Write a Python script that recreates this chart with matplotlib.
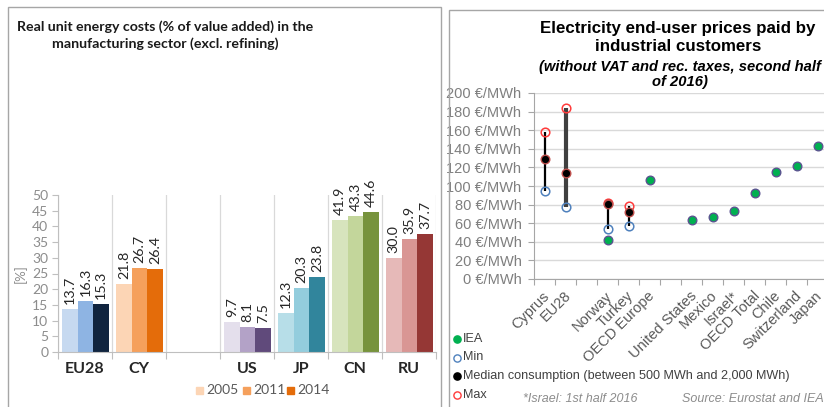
import numpy as np
import matplotlib
matplotlib.use("Agg")
import matplotlib.pyplot as plt
from matplotlib.lines import Line2D
from matplotlib.patches import Rectangle

# ---------------- data: left chart ----------------
regions = ["EU28", "CY", "", "US", "JP", "CN", "RU"]
years = ["2005", "2011", "2014"]
v2005 = [13.7, 21.8, np.nan, 9.7, 12.3, 41.9, 30.0]
v2011 = [16.3, 26.7, np.nan, 8.1, 20.3, 43.3, 35.9]
v2014 = [15.3, 26.4, np.nan, 7.5, 23.8, 44.6, 37.7]
region_colors = [
    ["#c6d9f0", "#8eb4e3", "#10243f"],
    ["#fcd5b5", "#f5a05c", "#e46c0a"],
    ["#ffffff", "#ffffff", "#ffffff"],
    ["#e4dfec", "#b3a2c7", "#604a7b"],
    ["#b7dee8", "#93cddd", "#31859c"],
    ["#d7e4bd", "#c3d69b", "#77933c"],
    ["#e6b9b8", "#d99694", "#953735"],
]
left_yticks = [0, 5, 10, 15, 20, 25, 30, 35, 40, 45, 50]

# ---------------- data: right chart ----------------
countries = ["Cyprus", "EU28", "", "Norway", "Turkey", "OECD Europe", "",
             "United States", "Mexico", "Israel*", "OECD Total", "Chile",
             "Switzerland", "Japan"]
iea = [np.nan, np.nan, np.nan, 42, np.nan, 106, np.nan, 63, 67, 73, 93, 115, 121, 143]
pmin = [95, 77, np.nan, 54, 57, np.nan, np.nan, np.nan, np.nan, np.nan, np.nan, np.nan, np.nan, np.nan]
pmed = [129, 114, np.nan, 81, 72, np.nan, np.nan, np.nan, np.nan, np.nan, np.nan, np.nan, np.nan, np.nan]
pmax = [158, 184, np.nan, 82, 79, np.nan, np.nan, np.nan, np.nan, np.nan, np.nan, np.nan, np.nan, np.nan]
right_yticks = [0, 20, 40, 60, 80, 100, 120, 140, 160, 180, 200]
legend_labels = ["IEA", "Min", "Median consumption (between 500 MWh and 2,000 MWh)", "Max"]

W, H = 824, 407
fig = plt.figure(figsize=(W / 100, H / 100), dpi=100)

def fx(px):
    return px / W

def fy(py):
    return 1 - py / H

# panel frames
fig.add_artist(Rectangle((fx(8), fy(420)), fx(441) - fx(8), fy(7) - fy(420),
                         transform=fig.transFigure, fill=False, ec="#a6a6a6", lw=1))
fig.add_artist(Rectangle((fx(449), fy(420)), fx(830) - fx(449), fy(10) - fy(420),
                         transform=fig.transFigure, fill=False, ec="#a6a6a6", lw=1))

# ================= left chart =================
LF = "Lato"
axl = fig.add_axes([fx(58), fy(352), fx(436) - fx(58), fy(195) - fy(352)])
x = np.arange(len(regions))
bw = 0.29
series = [v2005, v2011, v2014]
for j, vals in enumerate(series):
    for i, v in enumerate(vals):
        if np.isnan(v):
            continue
        xi = x[i] + (j - 1) * bw + 0.01
        axl.bar(xi, v, width=bw, color=region_colors[i][j], edgecolor="none", zorder=2)
        axl.text(xi, v + 1.6, f"{v:.1f}", rotation=90, ha="center", va="bottom",
                 fontsize=10.3, color="#262626", family=LF, clip_on=False)
axl.set_xlim(-0.5, len(regions) - 0.5)
axl.set_ylim(0, 50)
axl.set_yticks(left_yticks)
axl.set_yticklabels([str(t) for t in left_yticks], fontsize=10, color="#8c8c8c", family=LF)
axl.set_xticks(np.arange(len(regions) + 1) - 0.5, minor=False)
axl.set_xticklabels([])
axl.tick_params(axis="x", length=5, color="#bfbfbf")
axl.tick_params(axis="y", length=4, color="#bfbfbf", pad=3)
for b in np.arange(len(regions) + 1) - 0.5:
    axl.axvline(b, color="#d9d9d9", lw=0.9, zorder=0)
for s in ["top", "right"]:
    axl.spines[s].set_visible(False)
axl.spines["left"].set_color("#bfbfbf")
axl.spines["bottom"].set_color("#bfbfbf")
for i, r in enumerate(regions):
    axl.text(x[i], -5.5, r, ha="center", va="center", fontsize=11.5, fontweight="bold",
             color="#262626", family=LF)
axl.set_ylabel("[%]", fontsize=9.5, color="#8c8c8c", family=LF, labelpad=4)
fig.text(fx(165), fy(35), "Real unit energy costs (% of value added) in the\nmanufacturing sector (excl. refining)",
         ha="center", va="center", fontsize=10.2, fontweight="bold", family=LF,
         color="#1a1a1a", linespacing=1.4)
# legend (left)
lx = [196, 243, 287]
for j, y in enumerate(years):
    fig.add_artist(Rectangle((fx(lx[j]), fy(394)), fx(7), 7 / H, transform=fig.transFigure,
                             color=region_colors[1][j]))
    fig.text(fx(lx[j] + 10), fy(390), y, ha="left", va="center", fontsize=10,
             color="#595959", family=LF)

# ================= right chart =================
RF = "Liberation Sans"
axr = fig.add_axes([fx(534), fy(279), fx(828) - fx(534), fy(93) - fy(279)])
xr = np.arange(len(countries))
for i in range(len(countries)):
    if not np.isnan(pmin[i]):
        thick = countries[i] == "EU28"
        axr.plot([xr[i], xr[i]], [pmin[i], pmax[i]], color="#404040" if thick else "black",
                 lw=3 if thick else 1.6, zorder=2, solid_capstyle="butt")
ms = 6.2
axr.plot(xr, iea, "o", ls="none", ms=ms, mfc="#00b050", mec="#5b5490", mew=1.0, zorder=3)
axr.plot(xr, pmin, "o", ls="none", ms=ms, mfc="none", mec="#4f81bd", mew=1.1, zorder=3)
axr.plot(xr, pmax, "o", ls="none", ms=ms, mfc="none", mec="#ff3b3b", mew=1.1, zorder=3)
axr.plot(xr, pmed, "o", ls="none", ms=ms, mfc="black", mec="#c0504d", mew=1.0, zorder=4)
axr.set_xlim(-0.5, len(countries) - 0.5)
axr.set_ylim(0, 200)
axr.set_yticks(right_yticks)
axr.set_yticklabels([f"{t} €/MWh" for t in right_yticks], fontsize=10.5, color="#7f7f7f", family=RF)
axr.set_xticks(np.arange(len(countries) + 1) - 0.5)
axr.set_xticklabels([])
axr.tick_params(axis="x", length=4, color="#a6a6a6")
axr.tick_params(axis="y", length=4, color="#a6a6a6", pad=5)
axr.grid(axis="y", color="#d9d9d9", lw=1)
axr.set_axisbelow(True)
for s in ["top", "right"]:
    axr.spines[s].set_visible(False)
axr.spines["left"].set_color("#a6a6a6")
axr.spines["bottom"].set_color("#a6a6a6")
for i, c in enumerate(countries):
    if c:
        axr.annotate(c, (xr[i], 0), xytext=(-1.5, -7), textcoords="offset points",
                     rotation=45, ha="right", va="top", rotation_mode="anchor",
                     fontsize=10.5, color="#595959", family=RF, annotation_clip=False)
fig.text(fx(678), fy(37.5), "Electricity end-user prices paid by\nindustrial customers",
         ha="center", va="center", fontsize=12.2, fontweight="bold", family=RF,
         color="black", linespacing=1.2)
fig.text(fx(680), fy(74.5), "(without VAT and rec. taxes, second half\nof 2016)",
         ha="center", va="center", fontsize=10.6, fontweight="bold", style="italic",
         family=RF, color="black", linespacing=1.15)
# legend (right)
leg_style = [dict(mfc="#00b050", mec="#00b050"), dict(mfc="none", mec="#4f81bd"),
             dict(mfc="black", mec="black"), dict(mfc="none", mec="#ff3b3b")]
for k, lab in enumerate(legend_labels):
    yy = 339 + k * 18.5
    fig.add_artist(Line2D([fx(457)], [fy(yy)], marker="o", ms=5.2, mew=1.0,
                          transform=fig.transFigure, **leg_style[k]))
    fig.text(fx(463), fy(yy), lab, ha="left", va="center", fontsize=9.1, color="#404040", family=RF)
fig.text(fx(523), fy(399), "*Israel: 1st half 2016", ha="left", va="center", fontsize=9,
         style="italic", color="#8c8c8c", family=RF)
fig.text(fx(682), fy(399), "Source: Eurostat and IEA", ha="left", va="center", fontsize=9,
         style="italic", color="#8c8c8c", family=RF)

fig.savefig("out.png", dpi=100)
